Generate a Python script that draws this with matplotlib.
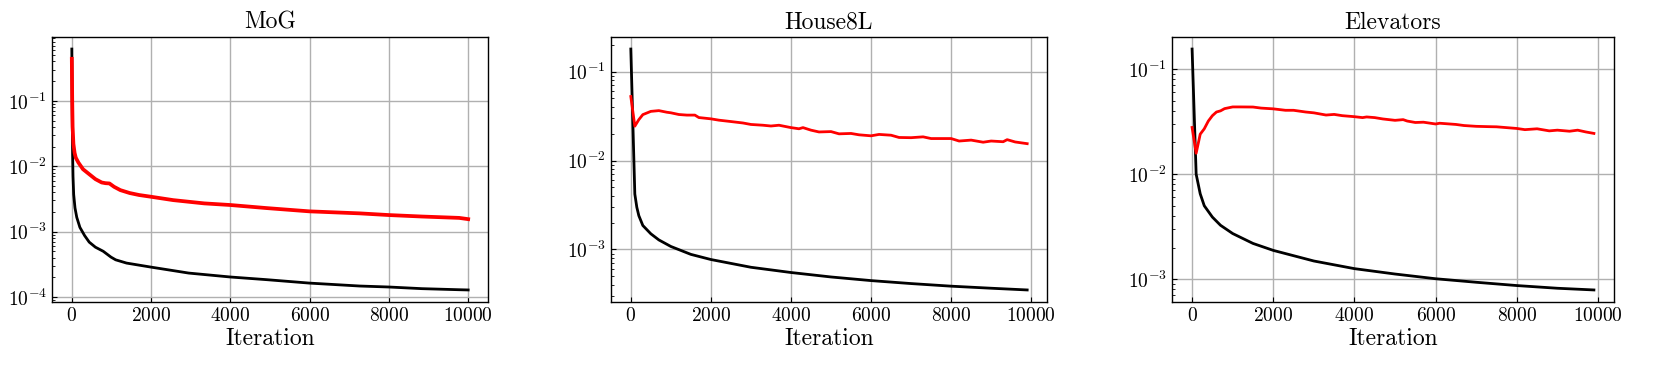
import matplotlib
matplotlib.use("Agg")
import matplotlib.pyplot as plt

plt.rcParams['font.family'] = 'serif'
plt.rcParams['font.serif'] = ['cmr10']
plt.rcParams['mathtext.fontset'] = 'cm'
plt.rcParams['axes.formatter.use_mathtext'] = True

titles = ["MoG", "House8L", "Elevators"]

# MoG
mog_x_black = [0, 10, 20, 30, 47, 80, 125, 204, 322, 439, 596, 792, 988, 1106, 1380, 2000, 2949,
               4000, 4910, 5992, 7263, 8000, 8831, 9773, 10000]
mog_black = [0.62, 0.06, 0.015, 0.007, 0.0037, 0.0023, 0.00165, 0.00116, 0.00087, 0.00069, 0.000577,
             0.0005, 0.000407, 0.00037, 0.00033, 0.000286, 0.000232, 0.000202, 0.000184, 0.000163,
             0.000147, 0.000142, 0.000134, 0.000129, 0.000128]
mog_x_red = [0, 10, 20, 40, 70, 100, 165, 282, 439, 596, 753, 850, 949, 1067, 1224, 1459, 1694, 2000,
             2557, 3341, 4000, 4910, 5992, 7263, 8000, 8831, 9773, 10000]
mog_red = [0.44, 0.1, 0.04, 0.022, 0.016, 0.0135, 0.0114, 0.009, 0.00755, 0.00634, 0.00564, 0.0055,
           0.00545, 0.00484, 0.00431, 0.00389, 0.00363, 0.00341, 0.00303, 0.0027, 0.00255, 0.00229,
           0.00204, 0.0019, 0.00179, 0.0017, 0.00162, 0.00155]

# House8L
h8_x_black = [0, 100, 150, 200, 300, 500, 700, 1000, 1500, 2000, 3000, 4000, 5000, 6000, 7000, 8000,
              9000, 9900]
h8_black = [0.18, 0.0042, 0.00298, 0.0024, 0.00186, 0.0015, 0.00128, 0.00108, 0.00088, 0.00077,
            0.00063, 0.00055, 0.00049, 0.000446, 0.000413, 0.000386, 0.000366, 0.00035]
h8_x_red = [0, 100, 200, 300, 500, 700, 900, 1000, 1200, 1400, 1600, 1700, 2000, 2200, 2500, 2800,
            3000, 3300, 3500, 3700, 4000, 4200, 4300, 4500, 4700, 5000, 5200, 5500, 5700, 6000, 6200,
            6500, 6700, 7000, 7300, 7500, 8000, 8200, 8500, 8800, 9000, 9300, 9400, 9600, 9900]
h8_red = [0.0526, 0.0244, 0.0289, 0.0329, 0.0358, 0.0365, 0.0350, 0.0345, 0.0330, 0.0325, 0.0325,
          0.0305, 0.0295, 0.0285, 0.0275, 0.0265, 0.0255, 0.0250, 0.0245, 0.0250, 0.0235, 0.0228,
          0.0235, 0.0220, 0.0210, 0.0212, 0.0200, 0.0202, 0.0195, 0.0190, 0.0197, 0.0193, 0.0182,
          0.0181, 0.0185, 0.0177, 0.0177, 0.0166, 0.0170, 0.0161, 0.0166, 0.0163, 0.0172, 0.0162, 0.0155]

# Elevators
el_x_black = [0, 100, 200, 300, 500, 700, 1000, 1500, 2000, 3000, 4000, 5000, 6000, 7000, 8000, 9000, 9900]
el_black = [0.155, 0.0100, 0.0065, 0.0050, 0.0039, 0.00326, 0.00272, 0.00219, 0.00188, 0.00149,
            0.00126, 0.00112, 0.00101, 0.000935, 0.00087, 0.00082, 0.00079]
el_x_red = [0, 100, 200, 300, 400, 500, 600, 700, 800, 1000, 1200, 1500, 1700, 2000, 2300, 2500, 2800,
            3000, 3300, 3500, 3700, 4000, 4200, 4300, 4500, 4700, 5000, 5200, 5300, 5500, 5700, 6000,
            6100, 6500, 6700, 7000, 7300, 7500, 8000, 8200, 8500, 8800, 9000, 9300, 9500, 9700, 9900]
el_red = [0.0278, 0.0158, 0.024, 0.0270, 0.0320, 0.0360, 0.0390, 0.0400, 0.0420, 0.0436, 0.0436, 0.0435,
          0.0425, 0.0418, 0.0405, 0.0405, 0.0390, 0.0383, 0.0365, 0.0370, 0.0360, 0.0352, 0.0345, 0.0350,
          0.0345, 0.0335, 0.0325, 0.0330, 0.0320, 0.0310, 0.0312, 0.0300, 0.0305, 0.0297, 0.0290, 0.0285,
          0.0283, 0.0282, 0.0272, 0.0265, 0.0270, 0.0258, 0.0262, 0.0256, 0.0262, 0.0252, 0.0244]

black_x = [mog_x_black, h8_x_black, el_x_black]
black_y = [mog_black, h8_black, el_black]
red_x = [mog_x_red, h8_x_red, el_x_red]
red_y = [mog_red, h8_red, el_red]
red_lw = [2.7, 2.0, 2.0]

W, H = 1661, 367
fig = plt.figure(figsize=(W / 100, H / 100), dpi=100)
boxes = [(52, 488), (611, 1047), (1172, 1614)]
top, bottom = 37, 302

for i in range(3):
    l, r = boxes[i]
    ax = fig.add_axes([l / W, (H - bottom) / H, (r - l) / W, (bottom - top) / H])
    ax.plot(black_x[i], black_y[i], color='black', lw=2.0, zorder=3)
    ax.plot(red_x[i], red_y[i], color='red', lw=red_lw[i], zorder=3)
    ax.set_yscale('log')
    ax.set_title(titles[i], fontsize=17, pad=6)
    ax.set_xlabel('Iteration', fontsize=17, labelpad=2)
    ax.set_xticks([0, 2000, 4000, 6000, 8000, 10000])
    ax.tick_params(axis='both', which='both', direction='in', labelsize=14)
    ax.grid(True, which='major', color='#b0b0b0', lw=1.0)
    ax.set_axisbelow(True)
    for s in ax.spines.values():
        s.set_linewidth(1.0)

fig.savefig('out.png', dpi=100)
